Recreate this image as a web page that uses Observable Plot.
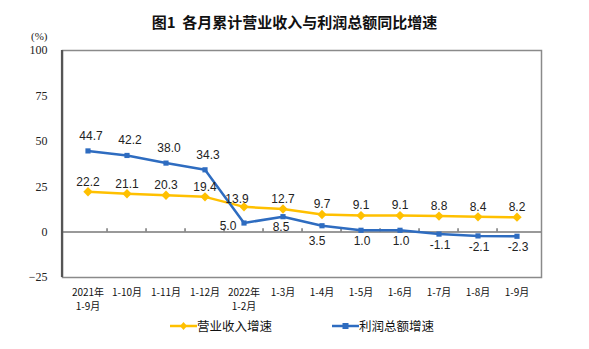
<!DOCTYPE html>
<html>
<head>
<meta charset="utf-8">
<script src="https://cdn.jsdelivr.net/npm/d3@7"></script>
<script src="https://cdn.jsdelivr.net/npm/@observablehq/plot@0.6"></script>
<style>
  html, body { margin: 0; padding: 0; background: #fff; }
  #wrap { position: relative; width: 589px; height: 349px; overflow: hidden; }
  #title { position: absolute; left: 0; width: 589px; top: 12px; text-align: center;
    font-family: "Noto Sans CJK SC", sans-serif; font-size: 15px; font-weight: bold; color: #111; line-height: 20px; }
  #unit { position: absolute; left: 31px; top: 30px; font-family: "Liberation Serif", serif; font-size: 11px; color: #222; }
  #legend { position: absolute; left: 0; top: 316px; width: 589px; height: 22px; }
  .leg { position: absolute; top: 0; display: flex; align-items: center; font-family: "Noto Sans CJK SC", sans-serif; font-size: 12.5px; color: #111; line-height: 20px; }
  #chart { position: absolute; left: 0; top: 0; }
</style>
</head>
<body>
<div id="wrap">
  <div id="chart"></div>
  <div id="title">图1&nbsp;&nbsp;各月累计营业收入与利润总额同比增速</div>
  <div id="unit">(%)</div>
  <div id="legend"></div>
</div>
<script>
// ---- data ----
const categories = ["2021年\n1-9月", "1-10月", "1-11月", "1-12月", "2022年\n1-2月", "1-3月", "1-4月", "1-5月", "1-6月", "1-7月", "1-8月", "1-9月"];
const revenueGrowth = [22.2, 21.1, 20.3, 19.4, 13.9, 12.7, 9.7, 9.1, 9.1, 8.8, 8.4, 8.2];
const profitGrowth = [44.7, 42.2, 38.0, 34.3, 5.0, 8.5, 3.5, 1.0, 1.0, -1.1, -2.1, -2.3];
const yTicks = [-25, 0, 25, 50, 75, 100];
const seriesNames = ["营业收入增速", "利润总额增速"];

const yellow = "#FFC000";
const blue = "#2E6CC0";

const rev = categories.map((c, i) => ({cat: c, v: revenueGrowth[i], i}));
const pro = categories.map((c, i) => ({cat: c, v: profitGrowth[i], i}));

const W = 589, H = 349, ML = 62, MR = 48, MT = 50, MB = 72;
const step = (W - ML - MR) / categories.length;
const labelFont = {fontFamily: "Liberation Sans, Arial, sans-serif", fontSize: 12, fill: "#222"};

const chart = Plot.plot({
  width: W, height: H,
  marginLeft: ML, marginRight: MR, marginTop: MT, marginBottom: MB,
  x: {type: "band", domain: categories, padding: 0, axis: null},
  y: {domain: [-25, 100], ticks: yTicks},
  style: {background: "transparent"},
  marks: [
    Plot.frame({stroke: "#8a8a8a", strokeWidth: 1.5}),
    Plot.axisY({ticks: yTicks, tickSize: 0, tickPadding: 15, label: null,
      fontFamily: "Liberation Serif, serif", fontSize: 12, fill: "#222"}),
    Plot.text(categories, {x: d => d, text: d => d, frameAnchor: "bottom", lineAnchor: "top", dy: 8,
      lineHeight: 1.45, fontFamily: "Noto Sans CJK SC, sans-serif", fontSize: 10, fill: "#111"}),
    Plot.ruleY([0], {stroke: "#777", strokeWidth: 1.5}),
    Plot.ruleX(categories.slice(1), {y1: 0, y2: 1.8, dx: -step / 2, stroke: "#777", strokeWidth: 1.5}),
    Plot.line(rev, {x: "cat", y: "v", stroke: yellow, strokeWidth: 2.5}),
    Plot.dot(rev, {x: "cat", y: "v", symbol: "diamond2", r: 4.2, fill: yellow, stroke: "none"}),
    Plot.line(pro, {x: "cat", y: "v", stroke: blue, strokeWidth: 2.5}),
    Plot.dot(pro, {x: "cat", y: "v", symbol: "square2", r: 3.3, fill: blue, stroke: "none"}),
    // revenue labels (above)
    Plot.text(rev.filter(d => d.i !== 4), {x: "cat", y: "v", text: d => d.v.toFixed(1), dy: -10, ...labelFont}),
    Plot.text(rev.filter(d => d.i === 4), {x: "cat", y: "v", text: d => d.v.toFixed(1), dy: -8, dx: -7, ...labelFont}),
    // profit labels
    Plot.text(pro.filter(d => d.i < 4), {x: "cat", y: "v", text: d => d.v.toFixed(1), dy: -15, dx: 3, ...labelFont}),
    Plot.text(pro.filter(d => d.i === 4), {x: "cat", y: "v", text: d => d.v.toFixed(1), dy: 3, dx: -16, ...labelFont}),
    Plot.text(pro.filter(d => d.i === 5), {x: "cat", y: "v", text: d => d.v.toFixed(1), dy: 10, dx: -2, ...labelFont}),
    Plot.text(pro.filter(d => d.i === 6), {x: "cat", y: "v", text: d => d.v.toFixed(1), dy: 15, dx: -5, ...labelFont}),
    Plot.text(pro.filter(d => d.i > 6), {x: "cat", y: "v", text: d => d.v.toFixed(1), dy: 11, dx: 1, ...labelFont})
  ]
});

// darker left axis line
const svg = d3.select(chart);
svg.append("line")
  .attr("x1", ML).attr("x2", ML).attr("y1", MT).attr("y2", H - MB)
  .attr("stroke", "#555").attr("stroke-width", 2.2);

document.getElementById("chart").appendChild(chart);

// legend
const legend = document.getElementById("legend");
const legItems = [
  {name: seriesNames[0], color: yellow, sym: "diamond", left: 170},
  {name: seriesNames[1], color: blue, sym: "square", left: 332}
];
for (const it of legItems) {
  const div = document.createElement("div");
  div.className = "leg";
  div.style.left = it.left + "px";
  const marker = it.sym === "diamond"
    ? `<path d="M13.5,6 L17,10 L13.5,14 L10,10 Z" fill="${it.color}"/>`
    : `<rect x="10.5" y="7" width="6" height="6" fill="${it.color}"/>`;
  div.innerHTML = `<svg width="27" height="20"><line x1="0" x2="27" y1="10" y2="10" stroke="${it.color}" stroke-width="2.5"/>${marker}</svg><span>${it.name}</span>`;
  legend.appendChild(div);
}
</script>
</body>
</html>
